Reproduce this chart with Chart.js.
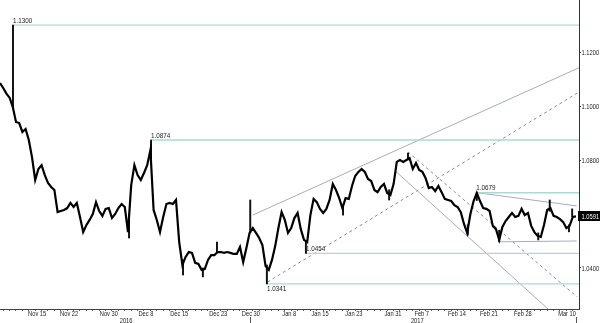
<!DOCTYPE html>
<html>
<head>
<meta charset="utf-8">
<script src="https://cdn.jsdelivr.net/npm/chart.js@4/dist/chart.umd.min.js"></script>
<style>
  html, body { margin: 0; padding: 0; background: #fff; }
  #wrap { width: 600px; height: 323px; position: relative; }
</style>
</head>
<body>
<div id="wrap"><canvas id="fx-chart"></canvas></div>
<script>
// ── Data ────────────────────────────────────────────────────────────────────
// x is in trading days counted from Mon Nov 7 2016; closes are half-day samples
const closes = [
  1.1085,1.1067,1.1046,1.1031,1.0996,1.0941,1.0937,1.0904,1.0915,1.0874,
  1.0811,1.0726,1.0767,1.0781,1.0744,1.0715,1.0700,1.0689,1.0607,1.0611,
  1.0615,1.0622,1.0641,1.0626,1.0641,1.0589,1.0533,1.0559,1.0578,1.0600,
  1.0644,1.0611,1.0593,1.0619,1.0622,1.0585,1.0600,1.0622,1.0637,1.0626,
  1.0533,1.0707,1.0781,1.0744,1.0726,1.0752,1.0781,1.0837,1.0615,1.0578,
  1.0533,1.0589,1.0637,1.0641,1.0637,1.0652,1.0496,1.0411,1.0441,1.0459,
  1.0456,1.0419,1.0415,1.0393,1.0396,1.0430,1.0448,1.0448,1.0459,1.0459,
  1.0456,1.0459,1.0456,1.0452,1.0452,1.0478,1.0422,1.0474,1.0530,1.0548,
  1.0530,1.0511,1.0485,1.0407,1.0393,1.0430,1.0481,1.0548,1.0607,1.0578,
  1.0530,1.0548,1.0585,1.0604,1.0544,1.0504,1.0496,1.0596,1.0656,1.0644,
  1.0619,1.0604,1.0619,1.0652,1.0711,1.0689,1.0659,1.0622,1.0659,1.0656,
  1.0704,1.0741,1.0756,1.0767,1.0756,1.0730,1.0722,1.0689,1.0681,1.0700,
  1.0711,1.0678,1.0670,1.0711,1.0793,1.0800,1.0793,1.0800,1.0807,1.0767,
  1.0789,1.0763,1.0756,1.0733,1.0696,1.0700,1.0685,1.0704,1.0681,1.0656,
  1.0652,1.0648,1.0633,1.0626,1.0607,1.0563,1.0530,1.0600,1.0648,1.0678,
  1.0648,1.0622,1.0619,1.0611,1.0556,1.0544,1.0504,1.0552,1.0574,1.0589,
  1.0604,1.0589,1.0593,1.0619,1.0596,1.0604,1.0556,1.0533,1.0519,1.0515,
  1.0559,1.0615,1.0622,1.0593,1.0589,1.0581,1.0570,1.0548,1.0556,1.0589,
  1.0591,
];
const sampleStep = 0.5;

// intraday extremes (spikes) that the closes don't show
const wickDays  = [2.03, 20.16, 23.6, 28.6, 31.7, 33.9, 39.1, 41.7, 47.8, 53.6, 60.8, 63.75, 73.1, 74.5, 78.0, 84.1, 85.9, 88.9, 89.4];
const wickLows  = [1.0996, 1.0511, 1.0800, 1.0374, 1.0367, 1.0459, 1.0530, 1.0341, 1.0454, 1.0596, 1.0652, 1.0800, 1.0522, 1.0650, 1.0497, 1.0504, 1.0610, 1.0534, 1.0590];
const wickHighs = [1.1300, 1.0600, 1.0874, 1.0430, 1.0400, 1.0496, 1.0652, 1.0411, 1.0500, 1.0630, 1.0690, 1.0826, 1.0560, 1.0679, 1.0540, 1.0530, 1.0652, 1.0560, 1.0619];

// horizontal support / resistance levels
const levelValues     = [1.1300, 1.0874, 1.0679, 1.0454, 1.0341];
const levelStartDays  = [2.03, 23.6, 74.4, 47.8, 41.7];
const levelLabelBelow = [false, false, false, false, true];

// trend lines: [startDay, startPrice, endDay, endPrice]
const channelUpper     = [39.5, 1.0596, 90.47, 1.1142];
const channelLowerDash = [41.8, 1.0348, 90.2, 1.1048];
const downDash         = [63.75, 1.0830, 90.16, 1.0293];
const downSolid        = [61.7, 1.0761, 86.0, 1.0240];
const resistFeb        = [74.5, 1.0679, 90.1, 1.0630];
const supportFeb       = [78.0, 1.0497, 90.1, 1.0500];

// axes
const tickDays   = [5.8, 10.8, 17.0, 22.8, 28.0, 34.1, 39.2, 45.2, 50.0, 55.3, 61.4, 65.9, 71.4, 76.4, 81.7, 88.6];
const tickLabels = ['Nov 15','Nov 22','Nov 30','Dec 8','Dec 15','Dec 23','Dec 30','Jan 8','Jan 15','Jan 23','Jan 31','Feb 7','Feb 14','Feb 21','Feb 28','Mar 10'];
const yearDays   = [19.7, 65.2];
const yearLabels = ['2016', '2017'];
const yearBreakDays = [39.1, 90.0];
const priceTicks = [1.04, 1.08, 1.10, 1.12];
const xMax = 90.47, yMin = 1.0248, yMax = 1.1393;

// ── Styling ─────────────────────────────────────────────────────────────────
const FONT   = "'Liberation Sans', Arial, sans-serif";
const TEAL   = '#a9dbd2';
const TREND  = '#a7aac8';
const DASH   = '#8c8c96';

function seg(line) {
  return [{ x: line[0], y: line[1] }, { x: line[2], y: line[3] }];
}

function lineSet(data, color, width, dash) {
  return {
    type: 'line', data, borderColor: color, borderWidth: width,
    borderDash: dash || [], pointRadius: 0, order: 5, tension: 0,
  };
}

// narrow text: the source uses a condensed face, so squeeze Liberation Sans
function narrowText(ctx, text, x, y, squeeze) {
  ctx.save();
  ctx.translate(x, y);
  ctx.scale(squeeze, 1);
  ctx.fillText(text, 0, 0);
  ctx.restore();
}

// ── Datasets ────────────────────────────────────────────────────────────────
const datasets = [];

levelValues.forEach((v, i) => {
  datasets.push(lineSet([{ x: levelStartDays[i], y: v }, { x: xMax, y: v }], TEAL, 1.4));
});

datasets.push(lineSet(seg(channelUpper), TREND, 1));
datasets.push(lineSet(seg(downSolid), TREND, 1));
datasets.push(lineSet(seg(resistFeb), TREND, 1));
datasets.push(lineSet(seg(supportFeb), TREND, 1));
datasets.push(lineSet(seg(channelLowerDash), DASH, 1, [3, 3]));
datasets.push(lineSet(seg(downDash), DASH, 1, [3, 3]));

datasets.push({
  type: 'bar',
  data: wickDays.map((d, i) => ({ x: d, y: [wickLows[i], wickHighs[i]] })),
  backgroundColor: '#111', barThickness: 1.3, grouped: false, order: 1,
});

datasets.push({
  type: 'line',
  data: closes.map((c, i) => ({ x: i * sampleStep, y: c })),
  borderColor: '#000', borderWidth: 2.2, pointRadius: 0, tension: 0, order: 0,
});

// ── Text: level labels, axis labels, last price tag ────────────────────────
const annotations = {
  id: 'annotations',
  afterDraw(chart) {
    const { ctx, scales: { x, y } } = chart;
    ctx.save();
    ctx.font = '7.5px ' + FONT;
    ctx.fillStyle = '#222';

    // level labels sit on the left end of each level line
    ctx.textAlign = 'left';
    levelValues.forEach((v, i) => {
      const px = x.getPixelForValue(levelStartDays[i]);
      const py = y.getPixelForValue(v);
      ctx.textBaseline = levelLabelBelow[i] ? 'top' : 'bottom';
      narrowText(ctx, v.toFixed(4), px, levelLabelBelow[i] ? py + 1 : py - 0.5, 0.84);
    });

    // date + year labels under the axis
    ctx.textAlign = 'center';
    ctx.textBaseline = 'top';
    tickDays.forEach((d, i) => narrowText(ctx, tickLabels[i], x.getPixelForValue(d), x.top + 1.5, 0.76));
    yearDays.forEach((d, i) => narrowText(ctx, yearLabels[i], x.getPixelForValue(d), x.top + 8, 0.76));

    // year break markers below the axis
    ctx.strokeStyle = '#555';
    ctx.lineWidth = 1;
    yearBreakDays.forEach(d => {
      const px = Math.round(x.getPixelForValue(d)) + 0.5;
      ctx.beginPath();
      ctx.moveTo(px, x.top + 8);
      ctx.lineTo(px, chart.height);
      ctx.stroke();
    });

    // price labels on the right axis
    ctx.textAlign = 'left';
    ctx.textBaseline = 'middle';
    priceTicks.forEach(v => narrowText(ctx, v.toFixed(4), y.left + 2.5, y.getPixelForValue(v) + 0.5, 0.77));

    // last price tag
    const last = closes[closes.length - 1];
    const py = Math.round(y.getPixelForValue(last));
    ctx.fillStyle = '#000';
    ctx.fillRect(y.left - 1, py - 5, chart.width - y.left + 1, 10);
    ctx.fillStyle = '#fff';
    narrowText(ctx, last.toFixed(4), y.left + 2.5, py + 0.5, 0.77);
    ctx.restore();
  },
};

// ── Chart ───────────────────────────────────────────────────────────────────
new Chart(document.getElementById('fx-chart'), {
  type: 'line',
  data: { datasets },
  plugins: [annotations],
  options: {
    responsive: true, maintainAspectRatio: false, animation: false,
    devicePixelRatio: 1,
    layout: { padding: 0 },
    plugins: { legend: { display: false }, tooltip: { enabled: false } },
    scales: {
      x: {
        type: 'linear', axis: 'x', min: 0, max: xMax, offset: false, position: 'bottom',
        // one small tick per trading day; labels are drawn by the plugin
        afterBuildTicks: s => {
          s.ticks = [];
          for (let d = 1; d < xMax; d++) s.ticks.push({ value: d });
        },
        afterFit: s => { s.height = 14; s.paddingLeft = 0; s.paddingRight = 0; },
        border: { color: '#444', width: 1 },
        grid: { drawOnChartArea: false, tickLength: 2, color: '#666' },
        ticks: { display: false },
      },
      y: {
        type: 'linear', min: yMin, max: yMax, position: 'right',
        afterBuildTicks: s => { s.ticks = priceTicks.map(v => ({ value: v })); },
        afterFit: s => { s.width = 21; s.paddingTop = 0; s.paddingBottom = 0; },
        border: { color: '#333', width: 1 },
        grid: { drawOnChartArea: false, tickLength: 2, color: '#333' },
        ticks: { display: false },
      },
    },
  },
});
</script>
</body>
</html>
